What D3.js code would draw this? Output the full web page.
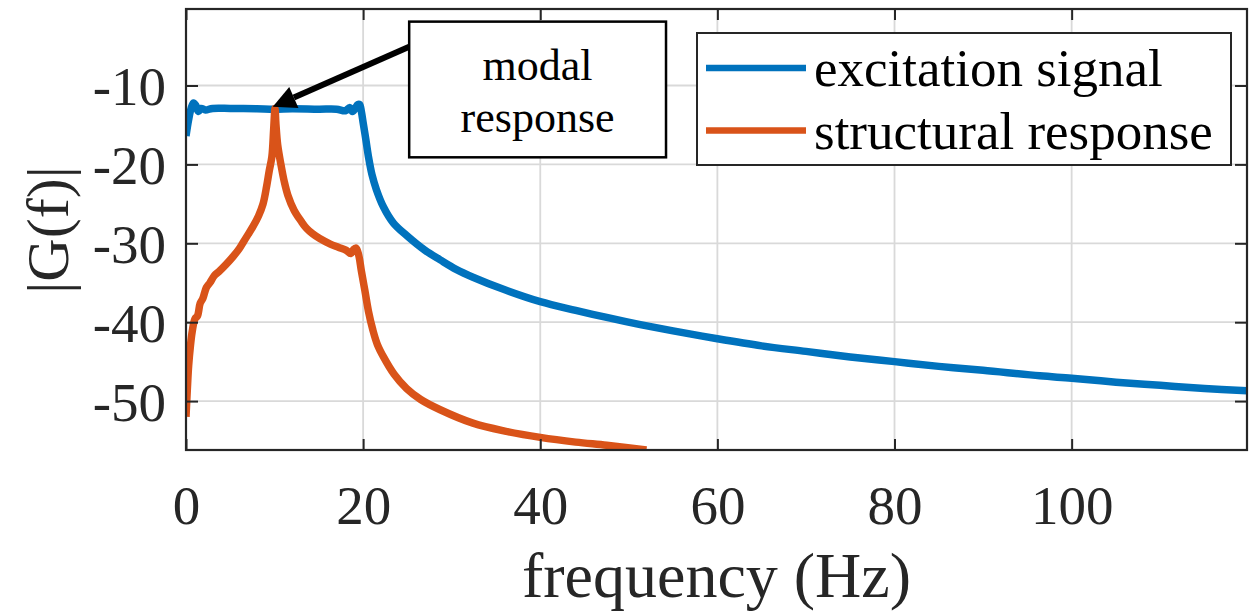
<!DOCTYPE html>
<html lang="en">
<head>
  <meta charset="UTF-8" />
  <title>|G(f)| spectrum</title>
  <style>
    html, body { margin: 0; padding: 0; background: #fff; }
    svg { display: block; font-family: "Liberation Serif", "Times New Roman", serif; }
  </style>
</head>
<body>
  <div id="chart"></div>

  <script src="https://cdnjs.cloudflare.com/ajax/libs/d3/7.8.4/d3.min.js"></script>
  <script>
    // excitation signal (blue)
    const excFreq = [0, 0.3, 0.6, 0.85, 1.1, 1.4, 1.7, 2.2, 3, 5, 8, 10, 12, 15, 17, 18, 18.5, 18.8, 19.1, 19.4, 19.6,
      19.8, 20.0, 20.3, 20.6, 21.0, 21.5, 22.3, 23.4, 24.9, 27.0, 28.7, 30.5, 32.4, 36, 40, 44, 47.5, 51.3, 55, 60,
      65, 70, 75, 80, 85, 90, 96.4, 100, 105, 110, 115, 119.8];
    const excGain = [-16.4, -14.3, -12.8, -12.2, -12.5, -13.3, -12.9, -13.1, -12.9, -12.9, -12.95, -13.0, -12.95, -13.0,
      -13.0, -13.2, -12.8, -13.3, -12.9, -12.4, -12.4, -13.3, -14.7, -16.8, -19.0, -21.3, -23.2, -25.4, -27.4, -29.0,
      -30.9, -32.1, -33.3, -34.3, -35.9, -37.4, -38.5, -39.4, -40.3, -41.1, -42.1, -43.0, -43.7, -44.4, -45.0, -45.6,
      -46.1, -46.8, -47.1, -47.6, -48.0, -48.4, -48.7];

    // structural response (orange)
    const strFreq = [0, 0.15, 0.3, 0.5, 0.7, 1.0, 1.3, 1.6, 1.9, 2.3, 2.7, 3.2, 3.7, 4.5, 5.3, 6.0, 6.5, 7.0, 7.6, 8.2,
      8.7, 9.1, 9.4, 9.7, 9.9, 10.05, 10.15, 10.35, 10.7, 11.1, 11.5, 12.2, 13.0, 13.6, 14.3, 15.1, 16.3, 17.2, 18.1,
      18.6, 18.9, 19.2, 19.5, 19.8, 20.2, 20.6, 21.1, 21.6, 22.3, 23.5, 24.9, 26.5, 28.7, 32.4, 36, 40, 44, 47.5, 52];
    const strGain = [-52.0, -48.5, -45.5, -43.0, -41.2, -39.6, -39.2, -37.6, -37.0, -35.6, -35.0, -34.1, -33.6, -32.7,
      -31.7, -30.7, -29.8, -28.9, -27.8, -26.5, -25.0, -22.8, -20.8, -19.0, -15.5, -12.9, -14.8, -17.5, -19.9, -22.2,
      -23.9, -25.8, -27.2, -28.1, -28.8, -29.4, -30.1, -30.5, -30.9, -31.3, -30.8, -30.6, -31.5, -33.5, -36.0, -38.6,
      -41.0, -42.8, -44.4, -46.6, -48.4, -49.8, -51.1, -52.8, -53.8, -54.6, -55.2, -55.6, -56.2];

    const xTicks = [0, 20, 40, 60, 80, 100];
    const yTicks = [-50, -40, -30, -20, -10];
    const seriesNames = ["excitation signal", "structural response"];
    const seriesColors = ["#0072BD", "#D95319"];
    const annotationLines = ["modal", "response"];
    // arrow tip and tail in data units
    const arrowTip = [9.8, -12.7];
    const arrowTail = [25.2, -5.1];
    // annotation box corners in data units
    const boxCorners = [[25.2, -1.9], [54.2, -19.1]];

    const width = 1259, height = 613;
    const m = { left: 186, right: 1247, top: 9, bottom: 450 };
    const axisColor = "#262626";

    const x = d3.scaleLinear().domain([0, 119.8]).range([m.left, m.right]);
    const y = d3.scaleLinear().domain([-56.2, -0.3]).range([m.bottom, m.top]);

    const svg = d3.select("#chart").append("svg").attr("width", width).attr("height", height);

    svg.append("defs").append("clipPath").attr("id", "plot-clip")
      .append("rect").attr("x", m.left).attr("y", m.top).attr("width", m.right - m.left).attr("height", m.bottom - m.top);

    // grid
    const grid = svg.append("g").attr("stroke", "#d9d9d9").attr("stroke-width", 1.8);
    grid.selectAll("line.gx").data(xTicks.filter(d => d > 0)).enter().append("line")
      .attr("x1", d => x(d)).attr("x2", d => x(d)).attr("y1", m.top).attr("y2", m.bottom);
    grid.selectAll("line.gy").data(yTicks).enter().append("line")
      .attr("y1", d => y(d)).attr("y2", d => y(d)).attr("x1", m.left).attr("x2", m.right);

    // curves
    const line = d3.line().x(d => x(d[0])).y(d => y(d[1])).curve(d3.curveCatmullRom.alpha(0.5));
    const series = [d3.zip(excFreq, excGain), d3.zip(strFreq, strGain)];
    svg.append("g").attr("clip-path", "url(#plot-clip)")
      .selectAll("path").data(series).enter().append("path")
      .attr("d", line)
      .attr("fill", "none")
      .attr("stroke", (d, i) => seriesColors[i])
      .attr("stroke-width", 7.5)
      .attr("stroke-linejoin", "round");

    // axes: bottom/left with labels, top/right mirror ticks only, all ticks inward
    const fontTick = 55;
    const xAxis = g => g.call(d3.axisBottom(x).tickValues(xTicks).tickSize(-11).tickPadding(0).tickFormat(d => String(d)));
    const yAxis = g => g.call(d3.axisLeft(y).tickValues(yTicks).tickSize(-12).tickPadding(0).tickFormat(d => String(d)));

    const gx = svg.append("g").attr("transform", `translate(0,${m.bottom})`).call(xAxis);
    gx.selectAll("text").attr("y", 74).attr("dy", null).style("font-size", fontTick + "px").attr("fill", axisColor);
    const gy = svg.append("g").attr("transform", `translate(${m.left},0)`).call(yAxis);
    gy.selectAll("text").attr("x", -20).attr("dy", "0.35em").style("font-size", fontTick + "px").attr("fill", axisColor);

    svg.append("g").attr("transform", `translate(0,${m.top})`)
      .call(d3.axisTop(x).tickValues(xTicks).tickSize(-11).tickFormat(""));
    svg.append("g").attr("transform", `translate(${m.right},0)`)
      .call(d3.axisRight(y).tickValues(yTicks).tickSize(-12).tickFormat(""));

    svg.selectAll(".domain").remove();
    svg.selectAll(".tick line").attr("stroke", axisColor).attr("stroke-width", 2);
    svg.selectAll("g[font-family]").attr("font-family", null).attr("font-size", null);

    // box
    svg.append("rect").attr("x", m.left).attr("y", m.top).attr("width", m.right - m.left).attr("height", m.bottom - m.top)
      .attr("fill", "none").attr("stroke", axisColor).attr("stroke-width", 2.2);

    // axis labels
    svg.append("text").attr("x", (m.left + m.right) / 2).attr("y", 597).attr("text-anchor", "middle")
      .style("font-size", "64px").attr("fill", axisColor).text("frequency (Hz)");
    svg.append("text").attr("transform", "translate(68,230) rotate(-90)").attr("text-anchor", "middle")
      .style("font-size", "60px").attr("fill", axisColor).text("|G(f)|");

    // annotation arrow
    const tip = [x(arrowTip[0]), y(arrowTip[1])];
    const tail = [x(arrowTail[0]), y(arrowTail[1])];
    const ang = Math.atan2(tail[1] - tip[1], tail[0] - tip[0]);
    const headLen = 23, headHalf = 11.5;
    const back = [tip[0] + headLen * Math.cos(ang), tip[1] + headLen * Math.sin(ang)];
    svg.append("line").attr("x1", tail[0]).attr("y1", tail[1]).attr("x2", back[0]).attr("y2", back[1])
      .attr("stroke", "#000").attr("stroke-width", 6);
    svg.append("polygon").attr("fill", "#000").attr("points", [
      tip,
      [back[0] - headHalf * Math.sin(ang), back[1] + headHalf * Math.cos(ang)],
      [back[0] + headHalf * Math.sin(ang), back[1] - headHalf * Math.cos(ang)]
    ].map(p => p.join(",")).join(" "));

    // annotation box
    const bx0 = x(boxCorners[0][0]), by0 = y(boxCorners[0][1]);
    const bx1 = x(boxCorners[1][0]), by1 = y(boxCorners[1][1]);
    svg.append("rect").attr("x", bx0).attr("y", by0).attr("width", bx1 - bx0).attr("height", by1 - by0)
      .attr("fill", "#fff").attr("stroke", "#000").attr("stroke-width", 2.5);
    svg.append("g").selectAll("text").data(annotationLines).enter().append("text")
      .attr("x", (bx0 + bx1) / 2).attr("y", (d, i) => 80 + i * 52)
      .attr("text-anchor", "middle").style("font-size", "44px").attr("fill", "#000").text(d => d);

    // legend
    const legend = svg.append("g");
    legend.append("rect").attr("x", 697).attr("y", 33).attr("width", 534).attr("height", 132)
      .attr("fill", "#fff").attr("stroke", axisColor).attr("stroke-width", 2);
    const items = legend.selectAll("g.item").data(seriesNames).enter().append("g")
      .attr("transform", (d, i) => `translate(0,${68 + i * 62.5})`);
    items.append("line").attr("x1", 706).attr("x2", 806).attr("y1", 0).attr("y2", 0)
      .attr("stroke", (d, i) => seriesColors[i]).attr("stroke-width", 6.5);
    items.append("text").attr("x", 814).attr("y", 18).style("font-size", "53px").attr("fill", "#000").text(d => d);
  </script>
</body>
</html>
